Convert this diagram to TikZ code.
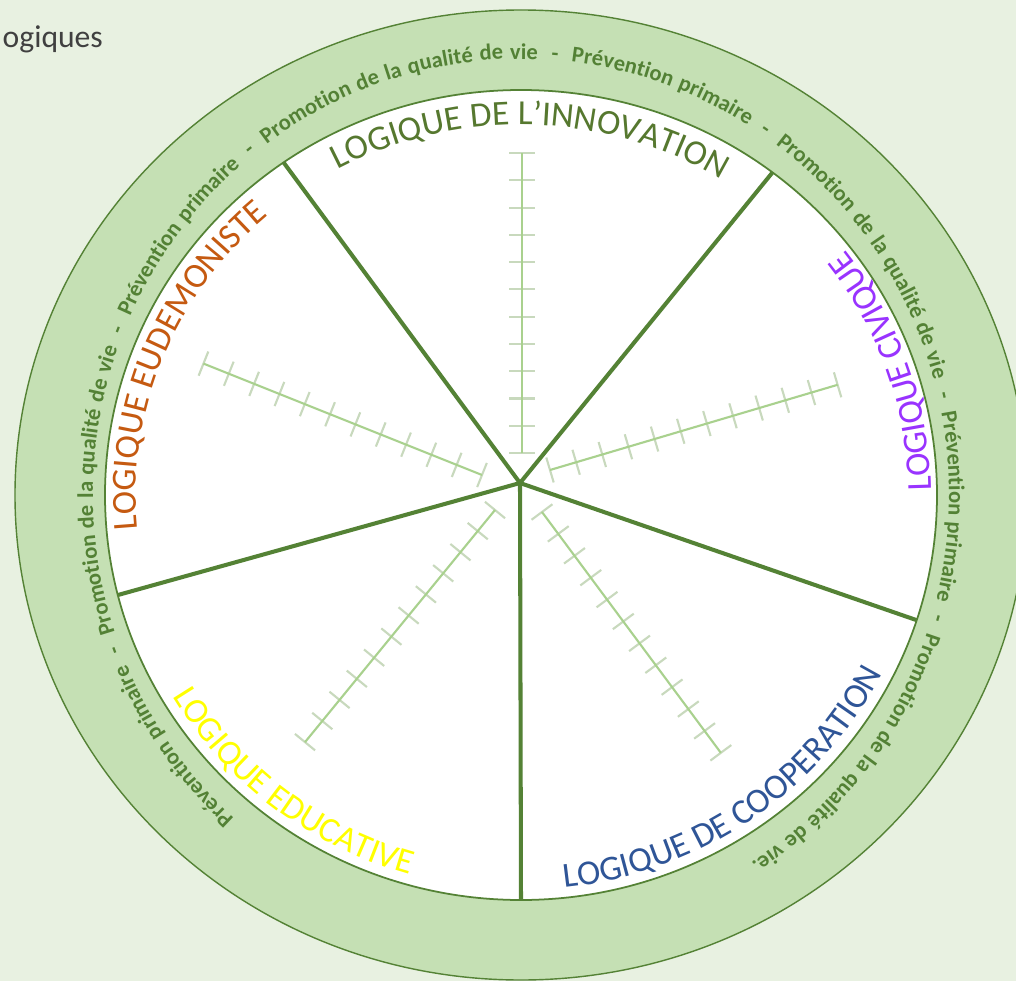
\documentclass[tikz,border=0pt]{standalone}
\usepackage{fontspec}
\setmainfont{Carlito}
\usepackage{tikz}
\usetikzlibrary{decorations.text}
\usepackage{xcolor}

\definecolor{bgpale}{HTML}{E8F1E1}
\definecolor{ringfill}{HTML}{C5E0B4}
\definecolor{ringline}{HTML}{548235}
\definecolor{ringtext}{HTML}{538135}
\definecolor{scalegreen}{HTML}{A9D18E}
\definecolor{tickgrey}{HTML}{C8D9BD}
\definecolor{innovcol}{HTML}{56782F}
\definecolor{eudemcol}{HTML}{C55A11}
\definecolor{civcol}{HTML}{9933FF}
\definecolor{coopcol}{HTML}{2F5597}
\definecolor{educcol}{HTML}{FFFF00}
\newcommand{\labelfont}{\fontsize{10}{12}\selectfont}
\newcommand{\ringfont}{\fontsize{6.4}{7}\selectfont\bfseries}

\begin{document}
\begin{tikzpicture}[
  spoke/.style={ringline, line width=1.15pt},
  scaleline/.style={scalegreen, line width=0.6pt},
  scaletick/.style={tickgrey, line width=0.6pt},
  curved/.style={decorate, decoration={text along path, text align=center, text={#1}}}
]
\useasboundingbox (-5.21,-4.86) rectangle (4.95,4.95);
\clip (-5.21,-4.86) rectangle (4.95,4.95);
\fill[bgpale] (-5.21,-4.86) rectangle (4.95,4.95);

% title fragment, cut at the left edge
\node[anchor=base west, inner sep=0, text=black!75, font=\fontsize{9}{11}\selectfont] (title) at (-5.19,4.47) {ogiques};

% green ring and white disc
\filldraw[fill=ringfill, draw=ringline, line width=0.4pt] (0,0) ellipse [x radius=5.06, y radius=4.85];
\filldraw[fill=white, draw=ringline, line width=0.5pt] (0,0) ellipse [x radius=4.16, y radius=4.05];

% one graduated scale per sector
\foreach \sx/\sy/\ang in {0.01/0.42/90, -0.39/0.20/158.2, 0.29/0.25/16.5, -0.26/-0.15/230.7, 0.21/-0.17/306.6} {
  \begin{scope}[shift={(\sx,\sy)}, rotate=\ang]
    \foreach \k in {0,...,11}
      \draw[scaletick] (\k*0.2727,-0.13) -- (\k*0.2727,0.13);
    \draw[scaleline] (0,0) -- (3,0);
  \end{scope}
}

% spokes
\coordinate (hub) at (-0.01,0.12);
\foreach \ang [count=\i] in {124.8,52.8,-18,-90,194.3} {
  \coordinate (rim\i) at (\ang:4.16 and 4.05);
  \draw[spoke] (hub) -- (rim\i);
}

% text running round the ring (clockwise)
\path[decorate, decoration={text along path, text align={fit to path stretching spaces},
  text={|\ringfont\color{ringtext}|Prévention primaire {\hspace{0.3em}-\hspace{0.3em}} Promotion de la qualité de vie {\hspace{0.3em}-\hspace{0.3em}} Prévention primaire {\hspace{0.3em}-\hspace{0.3em}} Promotion de la qualité de vie {\hspace{0.3em}-\hspace{0.3em}} Prévention primaire {\hspace{0.3em}-\hspace{0.3em}} Promotion de la qualité de vie {\hspace{0.3em}-\hspace{0.3em}} Prévention primaire {\hspace{0.3em}-\hspace{0.3em}} Promotion de la qualité de vie.}}]
  (227.9:4.28 and 4.36) arc[start angle=227.9, end angle=-57.5, x radius=4.28, y radius=4.36];

% sector titles
\path[curved={|\labelfont\color{innovcol}|LOGIQUE DE L’INNOVATION}]
  (148.5:3.85 and 3.70) arc[start angle=148.5, end angle=28.5, x radius=3.85, y radius=3.70];
\path[curved={|\labelfont\color{eudemcol}|LOGIQUE EUDEMONISTE}]
  (215:3.85 and 3.70) arc[start angle=215, end angle=102, x radius=3.85, y radius=3.70];
\path[curved={|\labelfont\color{civcol}|LOGIQUE CIVIQUE}]
  (-31:4.10 and 4.0) arc[start angle=-31, end angle=69, x radius=4.10, y radius=4.0];
\path[curved={|\labelfont\color{coopcol}|LOGIQUE DE COOPERATION}]
  (-115:4.05 and 3.95) arc[start angle=-115, end angle=5, x radius=4.05, y radius=3.95];
\path[curved={|\labelfont\color{educcol}|LOGIQUE EDUCATIVE}]
  (179.5:4.05 and 3.95) arc[start angle=179.5, end angle=284.5, x radius=4.05, y radius=3.95];
\end{tikzpicture}
\end{document}
